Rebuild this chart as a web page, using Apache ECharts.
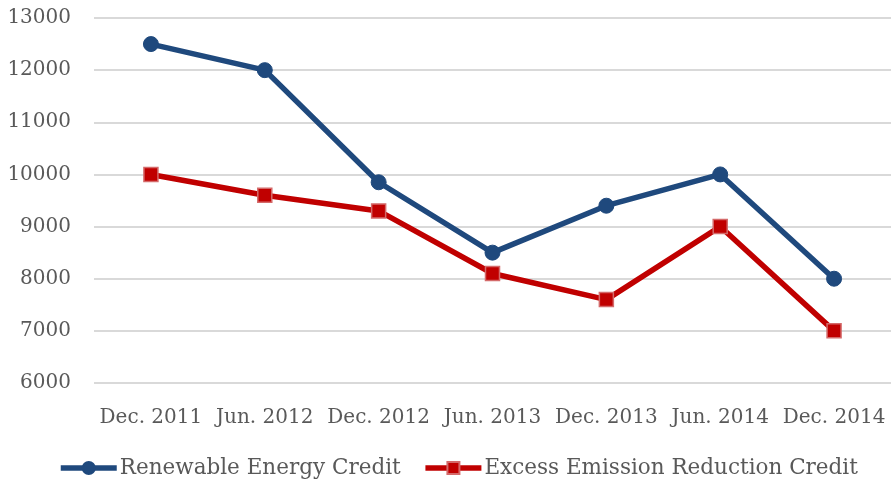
<!DOCTYPE html>
<html><head><meta charset="utf-8">
<script src="https://cdn.jsdelivr.net/npm/echarts@6/dist/echarts.min.js"></script>
<style>html,body{margin:0;padding:0;background:#fff}#c{width:892px;height:480px}</style>
</head><body><div id="c"></div>
<script>
const categories = ['Dec. 2011','Jun. 2012','Dec. 2012','Jun. 2013','Dec. 2013','Jun. 2014','Dec. 2014'];
const renewableEnergyCredit = [12500, 12000, 9850, 8500, 9400, 10000, 8000];
const excessEmissionReductionCredit = [10000, 9600, 9300, 8100, 7600, 9000, 7000];
const seriesNames = ['Renewable Energy Credit','Excess Emission Reduction Credit'];

const FONT = '"DejaVu Serif", serif';
const TXT = '#595959';
const chart = echarts.init(document.getElementById('c'), null, {renderer:'canvas'});
chart.setOption({
  animation: false,
  backgroundColor: '#fff',
  textStyle: {fontFamily: FONT},
  grid: {left: 94, right: 1, top: 18, bottom: 97, containLabel: false},
  legend: {
    bottom: -4, left: 53,
    itemWidth: 56, itemHeight: 15, itemGap: 22,
    lineStyle: {width: 5.5},
    textStyle: {fontFamily: FONT, fontSize: 21.5, color: TXT, padding: [0,0,0,-2]},
    data: seriesNames
  },
  xAxis: {
    type: 'category', data: categories, boundaryGap: true,
    axisLine: {show: false}, axisTick: {show: false},
    axisLabel: {interval: 0, margin: 25, fontFamily: FONT, fontSize: 20, color: TXT}
  },
  yAxis: {
    type: 'value', min: 6000, max: 13000, interval: 1000,
    axisLine: {show: false}, axisTick: {show: false},
    axisLabel: {margin: 23, fontFamily: FONT, fontSize: 20, color: TXT, formatter: v => String(v)},
    splitLine: {lineStyle: {color: '#D9D9D9', width: 2}}
  },
  series: [
    {
      name: seriesNames[0], type: 'line', data: renewableEnergyCredit,
      symbol: 'circle', symbolSize: 15, showAllSymbol: true,
      lineStyle: {color: '#1F497D', width: 5.5},
      itemStyle: {color: '#1F497D', borderColor: '#1F497D', borderWidth: 1}
    },
    {
      name: seriesNames[1], type: 'line', data: excessEmissionReductionCredit,
      symbol: 'rect', symbolSize: 14, showAllSymbol: true,
      lineStyle: {color: '#C00000', width: 5.5},
      itemStyle: {color: '#C00000', borderColor: '#D46A6A', borderWidth: 1.5}
    }
  ]
});
</script></body></html>
